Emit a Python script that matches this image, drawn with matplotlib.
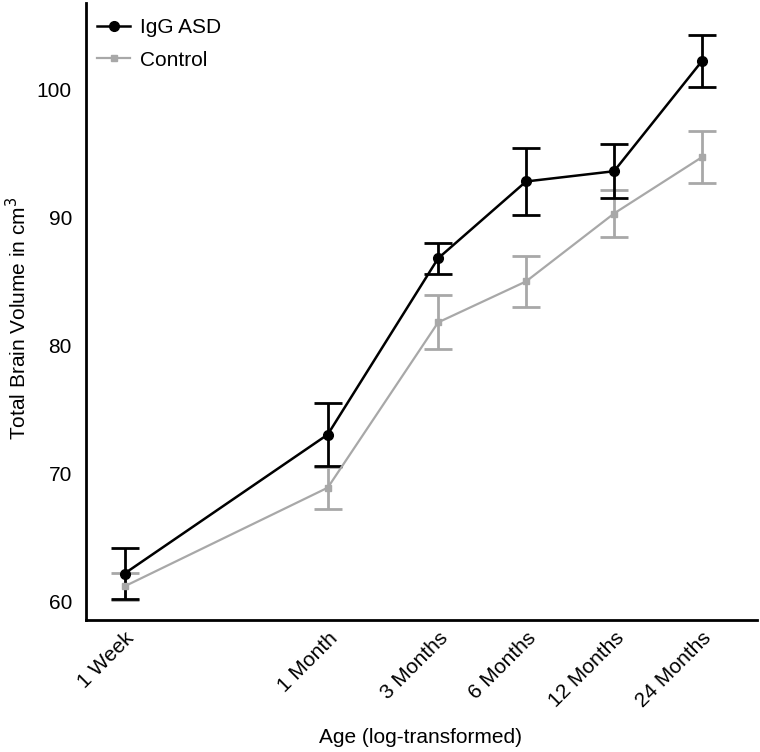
import matplotlib.pyplot as plt
from matplotlib.lines import Line2D

plt.rcParams['font.family'] = ['Liberation Sans', 'DejaVu Sans']

# ages on the log-transformed axis
age_labels = ['1 Week', '1 Month', '3 Months', '6 Months', '12 Months', '24 Months']
age_log = [-1.98, 0.33, 1.585, 2.585, 3.585, 4.585]

# total brain volume (cm3), mean and error
asd_mean = [62.2, 73.05, 86.8, 92.8, 93.6, 102.2]
asd_err = [2.0, 2.45, 1.2, 2.65, 2.1, 2.05]
ctrl_mean = [61.2, 68.9, 81.8, 85.0, 90.3, 94.7]
ctrl_err = [1.05, 1.65, 2.1, 2.0, 1.8, 2.05]

asd_color = 'black'
ctrl_color = '#a8a8a8'

fig = plt.figure(figsize=(7.6, 7.52), dpi=100)
ax = fig.add_axes([0.113, 0.1755, 0.883, 0.82])

ax.errorbar(age_log, ctrl_mean, yerr=ctrl_err, color=ctrl_color, marker='s', markersize=5,
            linewidth=1.6, elinewidth=2, capsize=10, capthick=2)
ax.errorbar(age_log, asd_mean, yerr=asd_err, color=asd_color, marker='o', markersize=7,
            linewidth=1.8, elinewidth=2, capsize=10, capthick=2)

ax.set_xlim(-2.42, 5.21)
ax.set_ylim(58.57, 106.7)
ax.set_xticks(age_log)
ax.set_xticklabels(age_labels, rotation=45, ha='right', rotation_mode='anchor')
ax.set_yticks([60, 70, 80, 90, 100])
ax.tick_params(length=0, labelsize=15)
ax.tick_params(axis='y', pad=10)
ax.tick_params(axis='x', pad=6)

ax.spines['top'].set_visible(False)
ax.spines['right'].set_visible(False)
ax.spines['left'].set_linewidth(2)
ax.spines['bottom'].set_linewidth(2)

ax.set_xlabel('Age (log-transformed)', fontsize=15, va='center')
ax.xaxis.set_label_coords(0.499, -0.191)
ax.set_ylabel('Total Brain Volume in cm$^3$', fontsize=15, va='center')
ax.yaxis.set_label_coords(-0.102, 0.49)

handles = [
    Line2D([], [], color=asd_color, marker='o', markersize=7, linewidth=1.8),
    Line2D([], [], color=ctrl_color, marker='s', markersize=5, linewidth=1.6),
]
ax.legend(handles, ['IgG ASD', 'Control'], loc='upper left', frameon=False, fontsize=15,
          handlelength=1.6, handletextpad=0.45, labelspacing=0.65,
          bbox_to_anchor=(-0.005, 1.0), borderaxespad=0.3)

plt.savefig('out.png', dpi=100)
